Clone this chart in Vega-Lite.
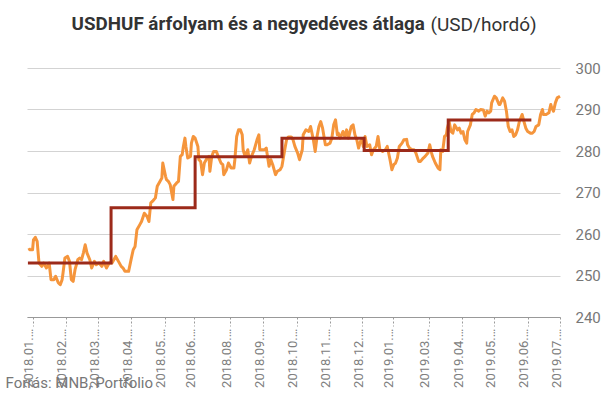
{
  "$schema": "https://vega.github.io/schema/vega-lite/v6.json",
  "width": 533,
  "height": 249,
  "autosize": {"type": "none"},
  "padding": {"left": 27, "top": 68, "right": 42, "bottom": 80},
  "background": "white",
  "title": {
    "text": "USDHUF árfolyam és a negyedéves átlaga",
    "font": "Roboto",
    "fontSize": 18.8,
    "fontWeight": "bold",
    "color": "#333333",
    "anchor": "start",
    "frame": "group",
    "baseline": "alphabetic",
    "offset": 0,
    "dx": 44.6,
    "dy": 34
  },
  "config": {
    "view": {"stroke": null},
    "font": "Roboto",
    "axis": {"labelFont": "Roboto", "titleFont": "Roboto"}
  },
  "datasets": {
    "rate": [
      {"date": "2018-01-02", "value": 256.6},
      {"date": "2018-01-03", "value": 256.2},
      {"date": "2018-01-06", "value": 256.2},
      {"date": "2018-01-07", "value": 258.6},
      {"date": "2018-01-09", "value": 259.2},
      {"date": "2018-01-11", "value": 258.2},
      {"date": "2018-01-13", "value": 253.0},
      {"date": "2018-01-16", "value": 252.2},
      {"date": "2018-01-18", "value": 253.0},
      {"date": "2018-01-21", "value": 251.8},
      {"date": "2018-01-24", "value": 253.0},
      {"date": "2018-01-26", "value": 249.0},
      {"date": "2018-01-29", "value": 249.0},
      {"date": "2018-01-31", "value": 249.8},
      {"date": "2018-02-03", "value": 248.2},
      {"date": "2018-02-05", "value": 247.8},
      {"date": "2018-02-07", "value": 249.0},
      {"date": "2018-02-08", "value": 250.6},
      {"date": "2018-02-10", "value": 254.2},
      {"date": "2018-02-13", "value": 254.6},
      {"date": "2018-02-15", "value": 253.4},
      {"date": "2018-02-17", "value": 249.0},
      {"date": "2018-02-19", "value": 248.6},
      {"date": "2018-02-21", "value": 251.4},
      {"date": "2018-02-24", "value": 253.8},
      {"date": "2018-02-26", "value": 254.2},
      {"date": "2018-02-28", "value": 253.8},
      {"date": "2018-03-02", "value": 255.4},
      {"date": "2018-03-04", "value": 257.4},
      {"date": "2018-03-06", "value": 255.4},
      {"date": "2018-03-09", "value": 253.8},
      {"date": "2018-03-11", "value": 251.8},
      {"date": "2018-03-14", "value": 253.4},
      {"date": "2018-03-16", "value": 252.6},
      {"date": "2018-03-19", "value": 253.0},
      {"date": "2018-03-22", "value": 252.2},
      {"date": "2018-03-24", "value": 253.4},
      {"date": "2018-03-27", "value": 251.8},
      {"date": "2018-03-30", "value": 253.0},
      {"date": "2018-04-02", "value": 253.0},
      {"date": "2018-04-04", "value": 253.8},
      {"date": "2018-04-06", "value": 254.6},
      {"date": "2018-04-09", "value": 253.4},
      {"date": "2018-04-12", "value": 252.2},
      {"date": "2018-04-14", "value": 251.8},
      {"date": "2018-04-16", "value": 251.0},
      {"date": "2018-04-20", "value": 251.0},
      {"date": "2018-04-23", "value": 254.2},
      {"date": "2018-04-25", "value": 256.2},
      {"date": "2018-04-27", "value": 257.0},
      {"date": "2018-04-29", "value": 261.0},
      {"date": "2018-05-02", "value": 262.2},
      {"date": "2018-05-04", "value": 263.0},
      {"date": "2018-05-07", "value": 265.0},
      {"date": "2018-05-10", "value": 264.2},
      {"date": "2018-05-12", "value": 263.0},
      {"date": "2018-05-14", "value": 267.5},
      {"date": "2018-05-16", "value": 267.9},
      {"date": "2018-05-19", "value": 268.7},
      {"date": "2018-05-21", "value": 271.5},
      {"date": "2018-05-23", "value": 272.3},
      {"date": "2018-05-26", "value": 273.5},
      {"date": "2018-05-27", "value": 277.1},
      {"date": "2018-05-30", "value": 273.9},
      {"date": "2018-05-31", "value": 273.1},
      {"date": "2018-06-02", "value": 272.7},
      {"date": "2018-06-04", "value": 271.9},
      {"date": "2018-06-07", "value": 268.3},
      {"date": "2018-06-08", "value": 271.5},
      {"date": "2018-06-11", "value": 272.3},
      {"date": "2018-06-13", "value": 272.7},
      {"date": "2018-06-15", "value": 278.7},
      {"date": "2018-06-17", "value": 279.1},
      {"date": "2018-06-18", "value": 280.7},
      {"date": "2018-06-20", "value": 283.1},
      {"date": "2018-06-21", "value": 281.1},
      {"date": "2018-06-23", "value": 278.3},
      {"date": "2018-06-26", "value": 278.7},
      {"date": "2018-06-27", "value": 281.9},
      {"date": "2018-06-29", "value": 283.5},
      {"date": "2018-07-01", "value": 283.1},
      {"date": "2018-07-04", "value": 281.1},
      {"date": "2018-07-05", "value": 277.9},
      {"date": "2018-07-07", "value": 277.5},
      {"date": "2018-07-09", "value": 274.3},
      {"date": "2018-07-11", "value": 277.1},
      {"date": "2018-07-14", "value": 278.3},
      {"date": "2018-07-16", "value": 278.7},
      {"date": "2018-07-17", "value": 275.1},
      {"date": "2018-07-19", "value": 278.7},
      {"date": "2018-07-21", "value": 279.9},
      {"date": "2018-07-24", "value": 279.9},
      {"date": "2018-07-26", "value": 278.7},
      {"date": "2018-07-29", "value": 277.1},
      {"date": "2018-07-31", "value": 276.7},
      {"date": "2018-08-01", "value": 274.3},
      {"date": "2018-08-04", "value": 275.5},
      {"date": "2018-08-06", "value": 277.1},
      {"date": "2018-08-09", "value": 275.9},
      {"date": "2018-08-12", "value": 275.9},
      {"date": "2018-08-13", "value": 277.9},
      {"date": "2018-08-15", "value": 283.5},
      {"date": "2018-08-17", "value": 285.1},
      {"date": "2018-08-19", "value": 285.1},
      {"date": "2018-08-21", "value": 283.9},
      {"date": "2018-08-22", "value": 280.3},
      {"date": "2018-08-24", "value": 278.7},
      {"date": "2018-08-27", "value": 280.3},
      {"date": "2018-08-29", "value": 277.1},
      {"date": "2018-08-31", "value": 278.7},
      {"date": "2018-09-03", "value": 280.3},
      {"date": "2018-09-06", "value": 282.7},
      {"date": "2018-09-08", "value": 283.9},
      {"date": "2018-09-09", "value": 280.3},
      {"date": "2018-09-11", "value": 280.3},
      {"date": "2018-09-14", "value": 280.3},
      {"date": "2018-09-16", "value": 280.7},
      {"date": "2018-09-19", "value": 276.3},
      {"date": "2018-09-21", "value": 277.9},
      {"date": "2018-09-23", "value": 276.7},
      {"date": "2018-09-26", "value": 274.3},
      {"date": "2018-09-28", "value": 275.1},
      {"date": "2018-10-01", "value": 275.5},
      {"date": "2018-10-03", "value": 276.3},
      {"date": "2018-10-06", "value": 280.3},
      {"date": "2018-10-08", "value": 282.7},
      {"date": "2018-10-10", "value": 283.4},
      {"date": "2018-10-13", "value": 283.4},
      {"date": "2018-10-15", "value": 282.7},
      {"date": "2018-10-17", "value": 281.1},
      {"date": "2018-10-20", "value": 279.5},
      {"date": "2018-10-22", "value": 277.9},
      {"date": "2018-10-25", "value": 280.3},
      {"date": "2018-10-26", "value": 283.9},
      {"date": "2018-10-29", "value": 285.1},
      {"date": "2018-11-01", "value": 284.7},
      {"date": "2018-11-03", "value": 285.9},
      {"date": "2018-11-06", "value": 282.7},
      {"date": "2018-11-08", "value": 279.9},
      {"date": "2018-11-10", "value": 283.5},
      {"date": "2018-11-12", "value": 285.9},
      {"date": "2018-11-14", "value": 287.1},
      {"date": "2018-11-16", "value": 285.5},
      {"date": "2018-11-19", "value": 281.5},
      {"date": "2018-11-21", "value": 281.5},
      {"date": "2018-11-24", "value": 281.9},
      {"date": "2018-11-26", "value": 283.1},
      {"date": "2018-11-28", "value": 286.3},
      {"date": "2018-11-30", "value": 287.5},
      {"date": "2018-12-02", "value": 283.9},
      {"date": "2018-12-03", "value": 284.3},
      {"date": "2018-12-05", "value": 283.1},
      {"date": "2018-12-08", "value": 284.7},
      {"date": "2018-12-10", "value": 283.5},
      {"date": "2018-12-12", "value": 285.1},
      {"date": "2018-12-14", "value": 283.1},
      {"date": "2018-12-17", "value": 285.9},
      {"date": "2018-12-19", "value": 286.3},
      {"date": "2018-12-21", "value": 283.9},
      {"date": "2018-12-23", "value": 282.7},
      {"date": "2018-12-25", "value": 280.7},
      {"date": "2018-12-27", "value": 282.3},
      {"date": "2018-12-29", "value": 282.7},
      {"date": "2018-12-30", "value": 281.1},
      {"date": "2019-01-01", "value": 283.5},
      {"date": "2019-01-03", "value": 281.1},
      {"date": "2019-01-06", "value": 281.5},
      {"date": "2019-01-08", "value": 279.1},
      {"date": "2019-01-10", "value": 280.3},
      {"date": "2019-01-13", "value": 281.1},
      {"date": "2019-01-15", "value": 283.5},
      {"date": "2019-01-17", "value": 280.3},
      {"date": "2019-01-20", "value": 279.9},
      {"date": "2019-01-23", "value": 280.3},
      {"date": "2019-01-25", "value": 281.1},
      {"date": "2019-01-28", "value": 277.9},
      {"date": "2019-01-30", "value": 275.5},
      {"date": "2019-02-01", "value": 276.7},
      {"date": "2019-02-03", "value": 277.1},
      {"date": "2019-02-05", "value": 278.3},
      {"date": "2019-02-07", "value": 281.1},
      {"date": "2019-02-10", "value": 281.9},
      {"date": "2019-02-12", "value": 282.7},
      {"date": "2019-02-15", "value": 282.8},
      {"date": "2019-02-16", "value": 281.5},
      {"date": "2019-02-18", "value": 280.7},
      {"date": "2019-02-21", "value": 280.3},
      {"date": "2019-02-23", "value": 280.3},
      {"date": "2019-02-25", "value": 279.5},
      {"date": "2019-02-28", "value": 277.5},
      {"date": "2019-03-02", "value": 277.5},
      {"date": "2019-03-05", "value": 278.3},
      {"date": "2019-03-07", "value": 278.7},
      {"date": "2019-03-10", "value": 279.5},
      {"date": "2019-03-12", "value": 281.5},
      {"date": "2019-03-14", "value": 279.5},
      {"date": "2019-03-15", "value": 278.7},
      {"date": "2019-03-18", "value": 277.1},
      {"date": "2019-03-21", "value": 275.9},
      {"date": "2019-03-23", "value": 275.5},
      {"date": "2019-03-24", "value": 280.3},
      {"date": "2019-03-26", "value": 279.9},
      {"date": "2019-03-28", "value": 283.5},
      {"date": "2019-03-30", "value": 283.9},
      {"date": "2019-03-31", "value": 285.5},
      {"date": "2019-04-02", "value": 287.1},
      {"date": "2019-04-04", "value": 284.7},
      {"date": "2019-04-06", "value": 284.3},
      {"date": "2019-04-08", "value": 286.3},
      {"date": "2019-04-11", "value": 285.1},
      {"date": "2019-04-13", "value": 285.5},
      {"date": "2019-04-15", "value": 284.3},
      {"date": "2019-04-17", "value": 284.7},
      {"date": "2019-04-19", "value": 282.7},
      {"date": "2019-04-21", "value": 281.9},
      {"date": "2019-04-22", "value": 284.7},
      {"date": "2019-04-25", "value": 286.3},
      {"date": "2019-04-27", "value": 288.8},
      {"date": "2019-04-29", "value": 289.2},
      {"date": "2019-05-01", "value": 290.0},
      {"date": "2019-05-04", "value": 289.6},
      {"date": "2019-05-06", "value": 290.0},
      {"date": "2019-05-09", "value": 289.9},
      {"date": "2019-05-11", "value": 288.4},
      {"date": "2019-05-13", "value": 289.6},
      {"date": "2019-05-15", "value": 289.2},
      {"date": "2019-05-17", "value": 289.6},
      {"date": "2019-05-18", "value": 291.6},
      {"date": "2019-05-21", "value": 293.2},
      {"date": "2019-05-23", "value": 292.8},
      {"date": "2019-05-26", "value": 291.2},
      {"date": "2019-05-27", "value": 291.2},
      {"date": "2019-05-30", "value": 292.8},
      {"date": "2019-06-01", "value": 292.0},
      {"date": "2019-06-03", "value": 289.6},
      {"date": "2019-06-05", "value": 285.9},
      {"date": "2019-06-07", "value": 284.7},
      {"date": "2019-06-09", "value": 285.1},
      {"date": "2019-06-11", "value": 283.5},
      {"date": "2019-06-13", "value": 283.9},
      {"date": "2019-06-15", "value": 285.1},
      {"date": "2019-06-17", "value": 287.1},
      {"date": "2019-06-20", "value": 288.8},
      {"date": "2019-06-22", "value": 287.1},
      {"date": "2019-06-24", "value": 285.5},
      {"date": "2019-06-26", "value": 284.7},
      {"date": "2019-06-29", "value": 284.3},
      {"date": "2019-07-01", "value": 284.3},
      {"date": "2019-07-03", "value": 284.7},
      {"date": "2019-07-05", "value": 285.9},
      {"date": "2019-07-08", "value": 286.3},
      {"date": "2019-07-10", "value": 288.8},
      {"date": "2019-07-12", "value": 290.0},
      {"date": "2019-07-13", "value": 288.8},
      {"date": "2019-07-16", "value": 288.8},
      {"date": "2019-07-19", "value": 289.2},
      {"date": "2019-07-21", "value": 291.2},
      {"date": "2019-07-22", "value": 290.4},
      {"date": "2019-07-24", "value": 289.6},
      {"date": "2019-07-26", "value": 291.6},
      {"date": "2019-07-28", "value": 292.8},
      {"date": "2019-07-31", "value": 293.2}
    ],
    "avg": [
      {"date": "2018-01-01", "value": 253.0},
      {"date": "2018-04-01", "value": 266.3},
      {"date": "2018-07-01", "value": 278.6},
      {"date": "2018-10-03", "value": 283.1},
      {"date": "2018-12-31", "value": 280.1},
      {"date": "2019-04-01", "value": 287.5},
      {"date": "2019-06-30", "value": 287.5}
    ]
  },
  "layer": [
    {
      "data": {"name": "rate"},
      "mark": {"type": "line", "color": "#f5953c", "strokeWidth": 3, "strokeJoin": "round"},
      "encoding": {
        "x": {
          "field": "date",
          "type": "temporal",
          "scale": {
            "type": "utc",
            "domain": [
              {"year": 2017, "month": 12, "date": 31, "utc": true},
              {"year": 2019, "month": 7, "date": 31, "utc": true}
            ]
          },
          "axis": {
            "values": [
              {"year": 2018, "month": 1, "date": 6, "utc": true},
              {"year": 2018, "month": 2, "date": 11, "utc": true},
              {"year": 2018, "month": 3, "date": 18, "utc": true},
              {"year": 2018, "month": 4, "date": 23, "utc": true},
              {"year": 2018, "month": 5, "date": 29, "utc": true},
              {"year": 2018, "month": 6, "date": 30, "utc": true},
              {"year": 2018, "month": 8, "date": 8, "utc": true},
              {"year": 2018, "month": 9, "date": 13, "utc": true},
              {"year": 2018, "month": 10, "date": 19, "utc": true},
              {"year": 2018, "month": 11, "date": 24, "utc": true},
              {"year": 2018, "month": 12, "date": 29, "utc": true},
              {"year": 2019, "month": 1, "date": 31, "utc": true},
              {"year": 2019, "month": 3, "date": 11, "utc": true},
              {"year": 2019, "month": 4, "date": 16, "utc": true},
              {"year": 2019, "month": 5, "date": 21, "utc": true},
              {"year": 2019, "month": 6, "date": 26, "utc": true},
              {"year": 2019, "month": 7, "date": 31, "utc": true}
            ],
            "tickCount": 30,
            "format": "%Y.%m.%d.",
            "labelAngle": 270,
            "labelAlign": "right",
            "labelBaseline": "alphabetic",
            "labelFontSize": 13,
            "labelColor": "#808080",
            "labelLimit": 66,
            "labelPadding": 2,
            "labelOverlap": false,
            "labelFlush": false,
            "tickSize": 9,
            "tickDash": [2, 2],
            "tickColor": "#999999",
            "domainColor": "#999999",
            "grid": false,
            "title": "Forrás: MNB, Portfolio",
            "titleX": -22,
            "titleY": 70,
            "titleAlign": "left",
            "titleBaseline": "alphabetic",
            "titleAngle": 0,
            "titleFontSize": 15,
            "titleFontWeight": "normal",
            "titleColor": "#777777"
          }
        },
        "y": {
          "field": "value",
          "type": "quantitative",
          "scale": {"domain": [240, 300], "nice": false, "zero": false},
          "axis": {
            "orient": "right",
            "values": [240, 250, 260, 270, 280, 290, 300],
            "domain": false,
            "ticks": false,
            "labelPadding": 15,
            "labelFontSize": 15,
            "labelColor": "#777777",
            "labelBaseline": "middle",
            "gridColor": "#d3d3d3",
            "gridWidth": 1,
            "title": "(USD/hordó)",
            "titleAngle": 0,
            "titleX": -130,
            "titleY": -38,
            "titleAlign": "left",
            "titleBaseline": "alphabetic",
            "titleFontSize": 19,
            "titleFontWeight": "normal",
            "titleColor": "#333333"
          }
        }
      }
    },
    {
      "data": {"name": "avg"},
      "mark": {"type": "line", "interpolate": "step-after", "color": "#9c2a1a", "strokeWidth": 3},
      "encoding": {
        "x": {"field": "date", "type": "temporal"},
        "y": {"field": "value", "type": "quantitative"}
      }
    }
  ]
}
